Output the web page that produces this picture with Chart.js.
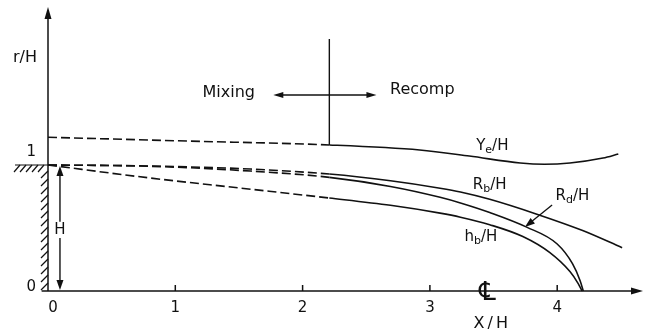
<!DOCTYPE html>
<html>
<head>
<meta charset="utf-8">
<script src="https://cdn.jsdelivr.net/npm/chart.js@4"></script>
<style>
  html, body { margin: 0; padding: 0; background: #fff; }
  #wrap { width: 652px; height: 332px; }
</style>
</head>
<body>
<div id="wrap"><canvas id="chart"></canvas></div>
<script>
// tick labels
const xTicks = [0, 1, 2, 3, 4];
const yTicks = [0, 1];

// Ye/H - edge of the shear layer
const yeX = [0, 1.1, 2.21, 2.92, 3.31, 3.71, 3.9, 4.1, 4.36, 4.48];
const yeY = [1.22, 1.19, 1.159, 1.119, 1.071, 1.016, 1.006, 1.016, 1.055, 1.087];

// Rb/H
const rbX = [0, 0.8, 1.59, 2.21, 2.69, 3.08, 3.24, 3.47, 3.84, 4.2, 4.51];
const rbY = [1.0, 0.992, 0.968, 0.928, 0.875, 0.816, 0.786, 0.728, 0.61, 0.48, 0.344];

// Rd/H
const rdX = [0, 0.8, 1.59, 2.21, 2.69, 3.08, 3.24, 3.47, 3.76, 4.0, 4.12, 4.18, 4.205];
const rdY = [1.0, 0.99, 0.952, 0.902, 0.83, 0.744, 0.699, 0.623, 0.507, 0.373, 0.217, 0.082, 0];

// hb/H
const hbX = [0, 0.8, 1.51, 2.21, 2.69, 3.08, 3.24, 3.47, 3.73, 3.94, 4.1, 4.165, 4.195];
const hbY = [1.0, 0.897, 0.817, 0.738, 0.68, 0.618, 0.586, 0.526, 0.432, 0.306, 0.154, 0.059, 0];

// mixing / recompression boundary
const splitX = 2.21;
const ink = '#111';
const font = '"DejaVu Sans", sans-serif';

function pts(xs, ys) {
  return xs.map((x, i) => ({ x: x, y: ys[i] }));
}

function curve(label, xs, ys) {
  return {
    label: label,
    data: pts(xs, ys),
    showLine: true,
    borderColor: ink,
    borderWidth: 1.6,
    pointRadius: 0,
    cubicInterpolationMode: 'monotone',
    clip: false,
    segment: {
      borderDash: ctx => ctx.p1.parsed.x <= splitX + 1e-6 ? [9, 4] : []
    }
  };
}

function head(ctx, tx, ty, fx, fy, len, half) {
  const a = Math.atan2(ty - fy, tx - fx);
  ctx.beginPath();
  ctx.moveTo(tx, ty);
  ctx.lineTo(tx - len * Math.cos(a) + half * Math.sin(a), ty - len * Math.sin(a) - half * Math.cos(a));
  ctx.lineTo(tx - len * Math.cos(a) - half * Math.sin(a), ty - len * Math.sin(a) + half * Math.cos(a));
  ctx.closePath();
  ctx.fill();
}

function line(ctx, x1, y1, x2, y2) {
  ctx.beginPath();
  ctx.moveTo(x1, y1);
  ctx.lineTo(x2, y2);
  ctx.stroke();
}

// label like R_b/H with a subscript
function subLabel(ctx, main, sub, rest, cx, cy) {
  const big = '15px ' + font, small = '11px ' + font;
  ctx.font = big;
  const w1 = ctx.measureText(main).width, w3 = ctx.measureText(rest).width;
  ctx.font = small;
  const w2 = ctx.measureText(sub).width;
  let x = cx - (w1 + w2 + w3) / 2;
  ctx.textAlign = 'left';
  ctx.textBaseline = 'middle';
  ctx.font = big;
  ctx.fillText(main, x, cy);
  x += w1;
  ctx.font = small;
  ctx.fillText(sub, x, cy + 4);
  x += w2;
  ctx.font = big;
  ctx.fillText(rest, x, cy);
}

const decor = {
  id: 'decor',
  afterDatasetsDraw(chart) {
    const ctx = chart.ctx;
    const xs = chart.scales.x, ys = chart.scales.y;
    const px = v => xs.getPixelForValue(v);
    const py = v => ys.getPixelForValue(v);
    ctx.save();
    ctx.strokeStyle = ink;
    ctx.fillStyle = ink;
    ctx.lineWidth = 1.5;

    // axes
    const x0 = px(0), y0 = py(0);
    line(ctx, px(-0.05), y0, px(4.674) - 4, y0);
    head(ctx, px(4.674), y0, px(4), y0, 12, 3.5);
    line(ctx, x0, y0, x0, py(2.254) + 4);
    head(ctx, x0, py(2.254), x0, y0, 12, 3.5);

    // x ticks
    ctx.font = '15px ' + font;
    ctx.textAlign = 'center';
    ctx.textBaseline = 'middle';
    xTicks.forEach(t => {
      if (t > 0) line(ctx, px(t), y0, px(t), y0 - 6);
      ctx.fillText(String(t), px(t) + (t === 0 ? 5 : 0), y0 + 17);
    });
    // y ticks
    ctx.textAlign = 'right';
    yTicks.forEach(t => {
      ctx.fillText(String(t), x0 - 12, py(t) - (t === 0 ? 4 : 13));
    });

    // axis titles
    ctx.textAlign = 'center';
    ctx.font = '16px ' + font;
    ctx.fillText('r/H', x0 - 23, py(1.85));
    ctx.letterSpacing = '3px';
    ctx.fillText('X/H', px(3.49), y0 + 33);
    ctx.letterSpacing = '0px';

    // step wall with hatching
    ctx.lineWidth = 1.2;
    const yStep = py(1);
    line(ctx, 15, yStep, x0, yStep);
    for (let x = 20; x <= x0; x += 6) line(ctx, x, yStep, x - 6, yStep + 7);
    for (let y = yStep + 6; y < y0 - 4; y += 8) line(ctx, x0, y, x0 - 7, y + 7);

    // H dimension
    ctx.lineWidth = 1.4;
    const hx = px(0.094);
    line(ctx, hx, yStep + 8, hx, py(0.55));
    line(ctx, hx, py(0.42), hx, y0 - 8);
    head(ctx, hx, yStep + 1, hx, y0, 10, 3.5);
    head(ctx, hx, y0 - 1, hx, yStep, 10, 3.5);
    ctx.font = '15px ' + font;
    ctx.textAlign = 'center';
    ctx.fillText('H', hx, py(0.485));

    // mixing / recomp divider
    line(ctx, px(splitX), py(1.159), px(splitX), py(2.0));
    const ya = py(1.556);
    line(ctx, px(splitX), ya, px(1.77) + 8, ya);
    head(ctx, px(1.77), ya, px(splitX), ya, 10, 3);
    line(ctx, px(splitX), ya, px(2.58) - 8, ya);
    head(ctx, px(2.58), ya, px(splitX), ya, 10, 3);
    ctx.font = '16px ' + font;
    ctx.fillText('Mixing', px(1.42), py(1.57));
    ctx.fillText('Recomp', px(2.94), py(1.595));

    // curve labels
    ctx.fillStyle = ink;
    subLabel(ctx, 'Y', 'e', '/H', px(3.49), py(1.15));
    subLabel(ctx, 'R', 'b', '/H', px(3.47), py(0.84));
    subLabel(ctx, 'R', 'd', '/H', px(4.12), py(0.75));
    subLabel(ctx, 'h', 'b', '/H', px(3.4), py(0.43));

    // leader to Rd/H
    ctx.lineWidth = 1.3;
    line(ctx, px(3.96), py(0.683), px(3.78), py(0.535));
    head(ctx, px(3.747), py(0.508), px(3.96), py(0.683), 10, 3.5);

    // centre line symbol
    ctx.font = '26px ' + font;
    ctx.textAlign = 'center';
    ctx.fillText('\u2104', px(3.452), y0 + 2);

    ctx.restore();
  }
};

new Chart(document.getElementById('chart'), {
  type: 'scatter',
  data: {
    datasets: [
      curve('Ye/H', yeX, yeY),
      curve('Rb/H', rbX, rbY),
      curve('Rd/H', rdX, rdY),
      curve('hb/H', hbX, hbY)
    ]
  },
  options: {
    responsive: true,
    maintainAspectRatio: false,
    animation: false,
    layout: { padding: { left: 48, top: 7, right: 9, bottom: 41 } },
    scales: {
      x: { type: 'linear', min: 0, max: 4.674, display: false },
      y: { type: 'linear', min: 0, max: 2.254, display: false }
    },
    plugins: {
      legend: { display: false },
      tooltip: { enabled: false }
    }
  },
  plugins: [decor]
});
</script>
</body>
</html>
